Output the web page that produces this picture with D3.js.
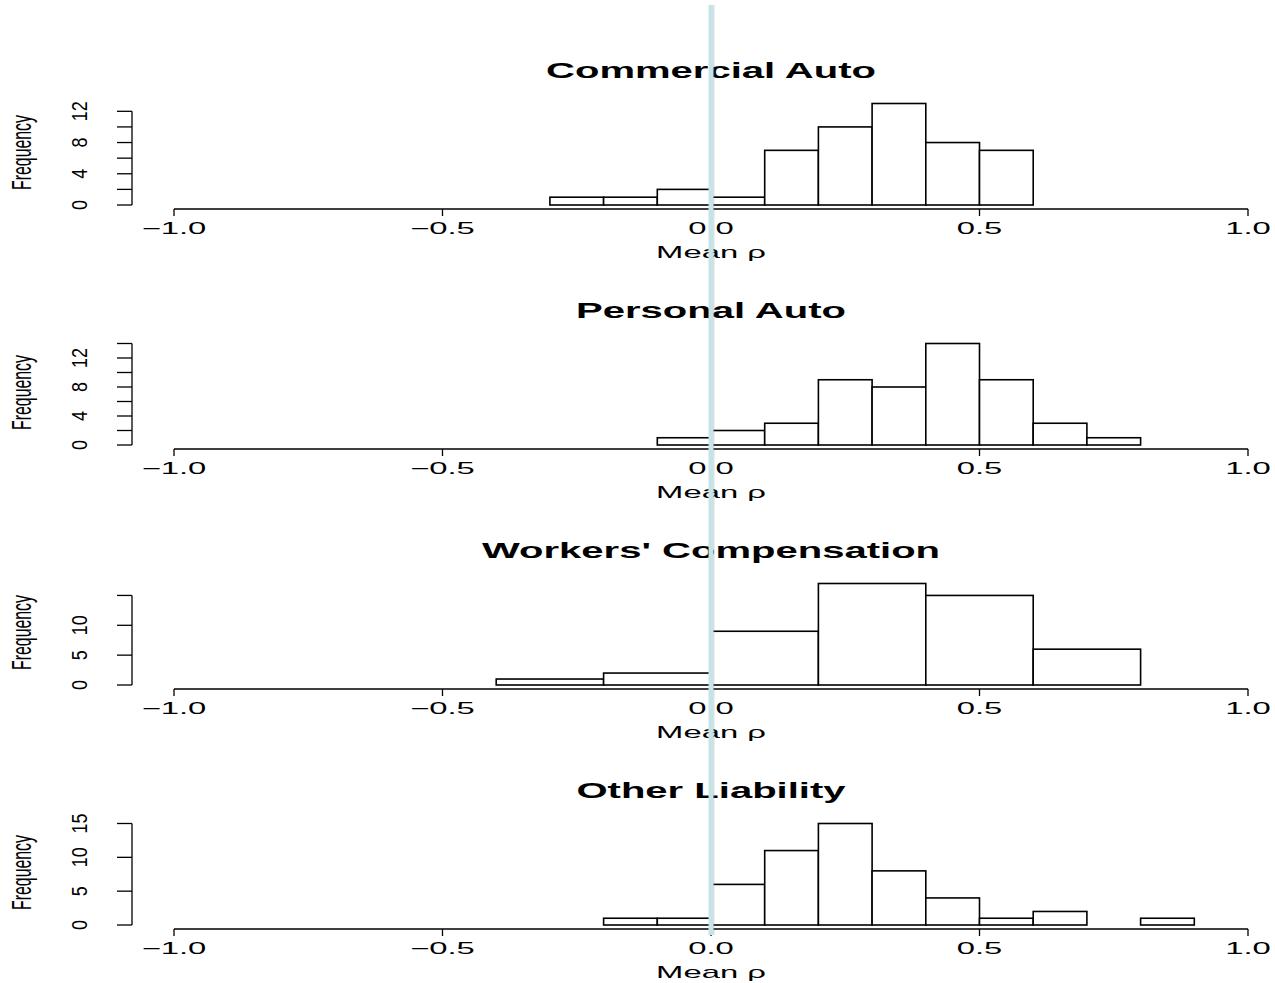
<!DOCTYPE html>
<html>
<head>
    <meta charset="utf-8">
    <title>Mean rho histograms</title>
    <script src="https://d3js.org/d3.v7.min.js"></script>
    <style>
        body { margin: 0; background: #fff; }
        text { font-family: "Liberation Sans", Arial, sans-serif; fill: #000; }
    </style>
</head>
<body>
<div id="chart"></div>
<script>
    // chart data
    const titles = ["Commercial Auto", "Personal Auto", "Workers' Compensation", "Other Liability"];

    const caBreaks = [-0.3, -0.2, -0.1, 0, 0.1, 0.2, 0.3, 0.4, 0.5, 0.6];
    const caCounts = [1, 1, 2, 1, 7, 10, 13, 8, 7];

    const paBreaks = [-0.1, 0, 0.1, 0.2, 0.3, 0.4, 0.5, 0.6, 0.7, 0.8];
    const paCounts = [1, 2, 3, 9, 8, 14, 9, 3, 1];

    const wcBreaks = [-0.4, -0.2, 0, 0.2, 0.4, 0.6, 0.8];
    const wcCounts = [1, 2, 9, 17, 15, 6];

    const olBreaks = [-0.2, -0.1, 0, 0.1, 0.2, 0.3, 0.4, 0.5, 0.6, 0.7, 0.8, 0.9];
    const olCounts = [1, 1, 6, 11, 15, 8, 4, 1, 2, 0, 1];

    const yTicks = [[0, 2, 4, 6, 8, 10, 12], [0, 2, 4, 6, 8, 10, 12, 14], [0, 5, 10, 15], [0, 5, 10, 15]];
    const yLabels = [[0, 4, 8, 12], [0, 4, 8, 12], [0, 5, 10], [0, 5, 10, 15]];

    const xTicks = [-1, -0.5, 0, 0.5, 1];
    const xTickLabels = ["\u22121.0", "\u22120.5", "0.0", "0.5", "1.0"];
    const xLabel = "Mean \u03c1";
    const yLabel = "Frequency";

    const breaks = [caBreaks, paBreaks, wcBreaks, olBreaks];
    const counts = [caCounts, paCounts, wcCounts, olCounts];

    // layout
    const W = 1275, H = 983;
    const firstBase = 205, panelStep = 240, barSpan = 101.5;
    const yAxisX = 132;

    const svg = d3.select("#chart").append("svg")
        .attr("width", W)
        .attr("height", H);

    const x = d3.scaleLinear().domain([-1, 1]).range([174, 1248]);

    titles.forEach(function (title, i) {
        const base = firstBase + i * panelStep;
        const y = d3.scaleLinear()
            .domain([0, d3.max(counts[i])])
            .range([base, base - barSpan]);

        const g = svg.append("g");

        // title
        g.append("text")
            .attr("transform", "translate(" + x(0) + "," + (base - 127) + ") scale(1.82,1)")
            .attr("text-anchor", "middle")
            .attr("font-weight", "bold")
            .attr("font-size", 22)
            .text(title);

        // bars
        const bins = counts[i].map(function (c, k) {
            return { lo: breaks[i][k], hi: breaks[i][k + 1], n: c };
        });
        g.selectAll(".bar")
            .data(bins)
            .enter()
            .append("rect")
            .attr("class", "bar")
            .attr("x", function (d) { return x(d.lo); })
            .attr("width", function (d) { return x(d.hi) - x(d.lo); })
            .attr("y", function (d) { return y(d.n); })
            .attr("height", function (d) { return base - y(d.n); })
            .attr("fill", "#fff")
            .attr("stroke", "#000")
            .attr("stroke-width", 1.6);

        // x axis (R style, offset below bars)
        const axY = base + 4;
        g.append("line")
            .attr("x1", x(xTicks[0])).attr("x2", x(xTicks[xTicks.length - 1]))
            .attr("y1", axY).attr("y2", axY)
            .attr("stroke", "#000").attr("stroke-width", 1.3);
        g.selectAll(".xt")
            .data(xTicks)
            .enter()
            .append("line")
            .attr("class", "xt")
            .attr("x1", function (d) { return x(d); })
            .attr("x2", function (d) { return x(d); })
            .attr("y1", axY).attr("y2", axY + 7)
            .attr("stroke", "#000").attr("stroke-width", 1.3);
        g.selectAll(".xl")
            .data(xTicks)
            .enter()
            .append("text")
            .attr("class", "xl")
            .attr("transform", function (d) { return "translate(" + x(d) + "," + (base + 29) + ") scale(2.05,1)"; })
            .attr("text-anchor", "middle")
            .attr("font-size", 16)
            .text(function (d, k) { return xTickLabels[k]; });
        g.append("text")
            .attr("transform", "translate(" + x(0) + "," + (base + 53) + ") scale(2.05,1)")
            .attr("text-anchor", "middle")
            .attr("font-size", 16)
            .text(xLabel);

        // y axis
        const yt = yTicks[i];
        g.append("line")
            .attr("x1", yAxisX).attr("x2", yAxisX)
            .attr("y1", y(yt[0])).attr("y2", y(yt[yt.length - 1]))
            .attr("stroke", "#000").attr("stroke-width", 1.3);
        g.selectAll(".ytk")
            .data(yt)
            .enter()
            .append("line")
            .attr("class", "ytk")
            .attr("x1", yAxisX - 15).attr("x2", yAxisX)
            .attr("y1", function (d) { return y(d); })
            .attr("y2", function (d) { return y(d); })
            .attr("stroke", "#000").attr("stroke-width", 1.3);
        g.selectAll(".ylb")
            .data(yLabels[i])
            .enter()
            .append("text")
            .attr("class", "ylb")
            .attr("transform", function (d) { return "translate(87," + y(d) + ") rotate(-90) scale(1,1.2)"; })
            .attr("text-anchor", "middle")
            .attr("font-size", 18)
            .text(function (d) { return d; });

        g.append("text")
            .attr("transform", "translate(30.5," + (base - 52.5) + ") rotate(-90)")
            .attr("text-anchor", "middle")
            .attr("font-size", 27)
            .attr("textLength", 75)
            .attr("lengthAdjust", "spacingAndGlyphs")
            .text(yLabel);
    });

    // vertical reference line at zero, drawn over everything
    svg.append("rect")
        .attr("x", x(0) - 2.5)
        .attr("y", 5)
        .attr("width", 5)
        .attr("height", 930)
        .attr("fill", "#c6e3e7");
    svg.append("line")
        .attr("x1", x(0) + 3).attr("x2", x(0) + 3)
        .attr("y1", 5).attr("y2", 935)
        .attr("stroke", "#999").attr("stroke-opacity", 0.35).attr("stroke-width", 1);
</script>
</body>
</html>
